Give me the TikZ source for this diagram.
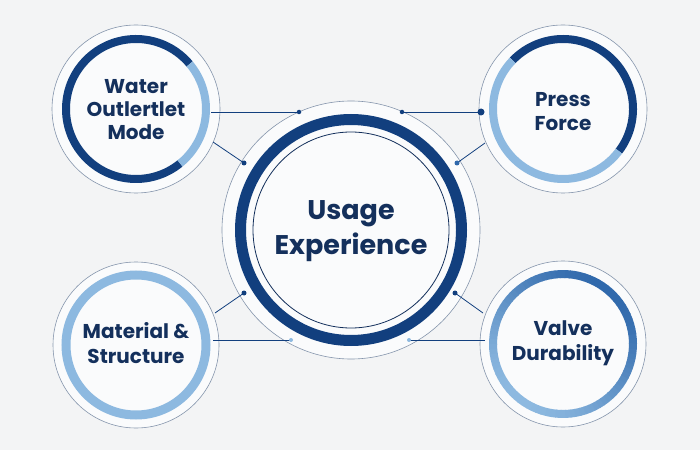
\documentclass[tikz,border=0pt]{standalone}
\usepackage{fontspec}
\setmainfont{Poppins}
\begin{document}
\begin{tikzpicture}[x=1pt,y=1pt]
\definecolor{navy}{HTML}{123F7E}
\definecolor{txt}{HTML}{14305C}
\definecolor{lightb}{HTML}{8DB9E0}
\definecolor{midb}{HTML}{2F68AB}
\definecolor{thinc}{HTML}{8595AC}
\definecolor{bg}{HTML}{F3F4F5}
\definecolor{disc}{HTML}{FAFBFC}
\tikzset{
  halo/.style={circle, draw=thinc, line width=0.6pt, fill=disc, minimum size=#1, inner sep=0pt},
  label/.style={font=\bfseries, text=txt, align=center},
  link/.style={draw=navy, line width=0.8pt},
  dotd/.style={circle, fill=navy, inner sep=0pt, minimum size=5pt},
}
\fill[bg] (0,0) rectangle (700,450);
\useasboundingbox (0,0) rectangle (700,450);

% centre
\node[halo=258pt] (c) at (351,220) {};
\draw[navy, line width=11pt] (c.center) circle[radius=110.5];
\draw[txt, line width=0.8pt] (c.center) circle[radius=98];
\node[label, font=\bfseries\fontsize{27}{35}\selectfont] (ct) at (351,219) {Usage\\Experience};

% satellites
\node[halo=168pt] (tl) at (136,341) {};
\node[halo=168pt] (tr) at (563,341) {};
\node[halo=166pt] (bl) at (136,105) {};
\node[halo=166pt] (br) at (563,106) {};

\draw[navy, line width=8pt] (tl.center) ++(40:70) arc[start angle=40, end angle=309, radius=70];
\draw[lightb, line width=8pt] (tl.center) ++(-51:70) arc[start angle=-51, end angle=40, radius=70];

\draw[navy, line width=8pt] (tr.center) ++(-37:70) arc[start angle=-37, end angle=136, radius=70];
\draw[lightb, line width=8pt] (tr.center) ++(136:70) arc[start angle=136, end angle=323, radius=70];

\draw[lightb, line width=9pt] (bl.center) circle[radius=70];

\foreach \a in {0,4,...,356}{
  \pgfmathtruncatemacro{\m}{50+50*cos(\a-50)}
  \draw[midb!\m!lightb, line width=8pt] (br.center) ++(\a:70) arc[start angle=\a, end angle=\a+4.6, radius=70];
}

\node[label, font=\bfseries\fontsize{20}{23}\selectfont] (tlt) at (136,340) {Water\\Outlertlet\\Mode};
\node[label, font=\bfseries\fontsize{20}{24}\selectfont] (trt) at (563,338.5) {Press\\Force};
\node[label, font=\bfseries\fontsize{20}{25}\selectfont] (blt) at (136,107) {Material \&\\Structure};
\node[label, font=\bfseries\fontsize{20}{25}\selectfont] (brt) at (563,107) {Valve\\Durability};

% connector end points
\coordinate (d1) at (299,338);
\coordinate (d2) at (402,338);
\coordinate (d3) at (244,287);
\coordinate (d4) at (457,287);
\coordinate (d5) at (244,157);
\coordinate (d6) at (455,157);
\coordinate (d7) at (291,110);
\coordinate (d8) at (409,110);
\coordinate (s1) at (211,338);
\coordinate (s2) at (481,338);
\coordinate (s3) at (213,308);
\coordinate (s4) at (485,307);
\coordinate (s5) at (215,137);
\coordinate (s6) at (483,137);
\coordinate (s7) at (213,110);
\coordinate (s8) at (485,110);

\draw[link] (s1) -- (d1);
\draw[link] (d2) -- (s2);
\draw[link] (s3) -- (d3);
\draw[link] (d4) -- (s4);
\draw[link] (s5) -- (d5);
\draw[link] (d6) -- (s6);
\draw[link] (s7) -- (d7);
\draw[link] (d8) -- (s8);

\node[dotd, minimum size=4.5pt] at (d1) {};
\node[dotd, minimum size=4.5pt] at (d2) {};
\node[dotd] at (d3) {};
\node[dotd, fill=midb] at (d4) {};
\node[dotd] at (d5) {};
\node[dotd] at (d6) {};
\node[dotd, fill=lightb, minimum size=4pt] at (d7) {};
\node[dotd, fill=lightb, minimum size=4pt] at (d8) {};
\node[dotd, minimum size=7pt] at (s2) {};
\end{tikzpicture}
\end{document}
